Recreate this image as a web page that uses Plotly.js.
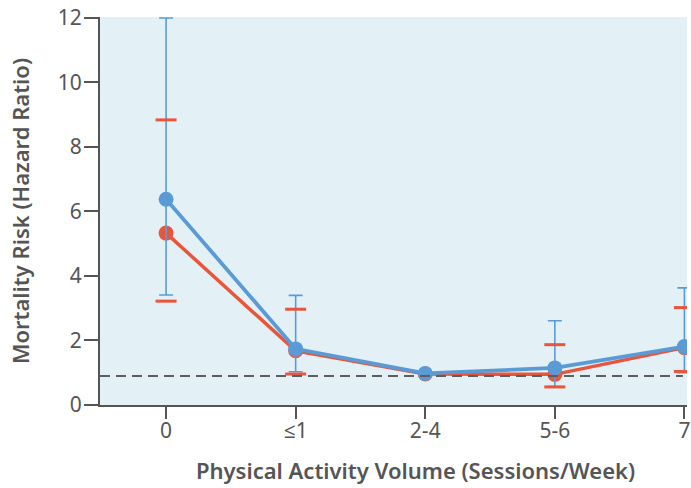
<!DOCTYPE html>
<html>
<head>
<meta charset="utf-8">
<script src="https://cdn.plot.ly/plotly-3.0.1.min.js"></script>
<style>
  html, body { margin: 0; padding: 0; background: #ffffff; overflow: hidden; }
  #chart { width: 691px; height: 488px; }
</style>
</head>
<body>
<div id="chart"></div>
<script>
// Physical activity sessions per week
const categories = ['0', '≤1', '2-4', '5-6', '7'];

// Blue cohort: hazard ratios and 95% CI (2-4 is the reference group, no CI)
const blueHR    = [6.38, 1.74, 0.98, 1.15, 1.81];
const blueUpper = [12.0, 3.40, null, 2.61, 3.63];
const blueLower = [3.41, 1.03, null, 0.57, 1.00];

// Red cohort: hazard ratios and 95% CI
const redHR    = [5.33, 1.68, 0.96, 0.95, 1.78];
const redUpper = [8.84, 2.97, null, 1.87, 3.02];
const redLower = [3.22, 0.96, null, 0.56, 1.04];

// Reference level line
const referenceHR = 0.9;

const yTicks = [0, 2, 4, 6, 8, 10, 12];

const BLUE = '#5b9bd5';
const RED = '#e8553b';
const AXIS = '#555555';
const FONT = 'Noto Sans, Open Sans, sans-serif';

// error bar lengths; groups without a CI get zero-length bars
function spread(a, b) {
  return a.map((v, i) => (v == null ? 0 : Math.abs(v - b[i])));
}

// Red CI caps as short horizontal ticks, drawn over the blue whiskers
const capX = [], capY = [];
categories.forEach((c, i) => {
  if (redUpper[i] != null) { capX.push(c); capY.push(redUpper[i]); }
  if (redLower[i] != null) { capX.push(c); capY.push(redLower[i]); }
});

const traces = [
  {
    type: 'scatter', mode: 'lines+markers',
    x: categories, y: redHR,
    line: { color: RED, width: 3.5 },
    marker: { color: RED, size: 15 },
    hoverinfo: 'skip'
  },
  {
    type: 'scatter', mode: 'lines+markers',
    x: categories, y: blueHR,
    line: { color: BLUE, width: 3.8 },
    marker: { color: BLUE, size: 15 },
    error_y: {
      type: 'data', symmetric: false,
      array: spread(blueUpper, blueHR),
      arrayminus: spread(blueLower, blueHR),
      color: BLUE, thickness: 1.6, width: 7
    },
    hoverinfo: 'skip'
  },
  {
    type: 'scatter', mode: 'markers',
    x: capX, y: capY,
    marker: { symbol: 'line-ew', size: 15, line: { color: RED, width: 3 } },
    hoverinfo: 'skip'
  }
];

const layout = {
  width: 691, height: 488,
  margin: { l: 100, r: 4, t: 17, b: 83 },
  paper_bgcolor: '#ffffff',
  plot_bgcolor: '#e3f1f7',
  showlegend: false,
  font: { family: FONT, color: AXIS },
  xaxis: {
    type: 'category',
    range: [-0.51, 4.02],
    showgrid: false, zeroline: false,
    showline: true, linecolor: AXIS, linewidth: 2,
    ticks: 'outside', ticklen: 12, tickwidth: 2, tickcolor: AXIS,
    ticklabelstandoff: -6,
    tickfont: { family: FONT, size: 21, color: AXIS },
    fixedrange: true
  },
  yaxis: {
    range: [0, 12.03],
    tickvals: yTicks,
    showgrid: false, zeroline: false,
    showline: true, linecolor: AXIS, linewidth: 2,
    ticks: 'outside', ticklen: 14, tickwidth: 2, tickcolor: AXIS,
    ticklabelstandoff: -2,
    tickfont: { family: FONT, size: 21, color: AXIS },
    title: {
      text: 'Mortality Risk (Hazard Ratio)',
      font: { family: FONT, size: 22, color: AXIS, weight: 600 },
      standoff: 22
    },
    fixedrange: true
  },
  shapes: [{
    type: 'line', xref: 'paper', yref: 'y',
    x0: 0, x1: 0.993, y0: referenceHR, y1: referenceHR,
    line: { color: '#5e5e5e', width: 2, dash: '10px,6px' }
  }],
  annotations: [{
    text: 'Physical Activity Volume (Sessions/Week)',
    xref: 'paper', yref: 'paper',
    x: 0.538, y: -0.167,
    xanchor: 'center', yanchor: 'middle',
    showarrow: false,
    font: { family: FONT, size: 22, color: AXIS, weight: 600 }
  }]
};

Plotly.newPlot('chart', traces, layout, { displayModeBar: false, staticPlot: true });
</script>
</body>
</html>
